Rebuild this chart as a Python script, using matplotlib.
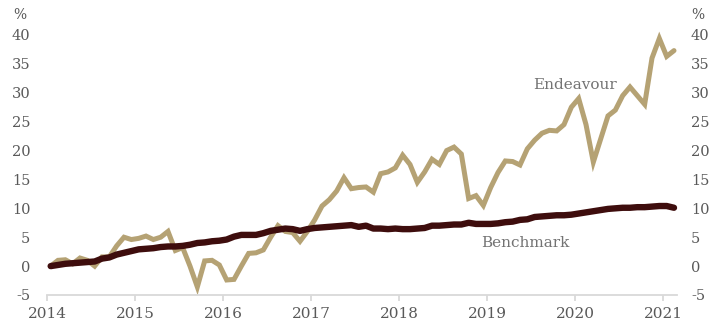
import matplotlib
matplotlib.use("Agg")
import matplotlib.pyplot as plt
import numpy as np

# Monthly data, Jan 2014 .. Feb 2021 (cumulative %)
start_year = 2014
endeavour = [0, 1, 1.1, 0.4, 1.4, 1, 0, 1.6, 1.6, 3.5, 5, 4.6,
             4.8, 5.2, 4.6, 5, 6, 2.7, 3.2, 0, -3.6, 0.9, 1, 0.2,
             -2.4, -2.3, 0, 2.2, 2.3, 2.8, 5, 7, 6, 5.8, 4.3, 6,
             8, 10.4, 11.5, 13, 15.3, 13.4, 13.6, 13.7, 12.8, 16, 16.3, 17,
             19.2, 17.6, 14.5, 16.3, 18.5, 17.6, 20, 20.6, 19.4, 11.7, 12.2, 10.5,
             13.6, 16.2, 18.2, 18.1, 17.5, 20.3, 21.8, 23, 23.5, 23.4, 24.5, 27.5,
             29, 24.5, 18, 22, 26, 27, 29.5, 31, 29.5, 28, 36, 39.4,
             36.3, 37.3]
benchmark = [0, 0.2, 0.4, 0.5, 0.6, 0.7, 0.8, 1.3, 1.5, 2.0, 2.3, 2.6,
             2.9, 3.0, 3.1, 3.3, 3.4, 3.4, 3.5, 3.7, 4.0, 4.1, 4.3, 4.4,
             4.6, 5.1, 5.4, 5.4, 5.4, 5.7, 6.1, 6.3, 6.5, 6.4, 6.1, 6.4,
             6.6, 6.7, 6.8, 6.9, 7.0, 7.1, 6.8, 7.0, 6.5, 6.5, 6.4, 6.5,
             6.4, 6.4, 6.5, 6.6, 7.0, 7.0, 7.1, 7.2, 7.2, 7.5, 7.3, 7.3,
             7.3, 7.4, 7.6, 7.7, 8.0, 8.1, 8.5, 8.6, 8.7, 8.8, 8.8, 8.9,
             9.1, 9.3, 9.5, 9.7, 9.9, 10.0, 10.1, 10.1, 10.2, 10.2, 10.3, 10.4,
             10.4, 10.1]
year_ticks = [2014, 2015, 2016, 2017, 2018, 2019, 2020, 2021]
y_ticks = [-5, 0, 5, 10, 15, 20, 25, 30, 35, 40]

x = start_year + (np.arange(len(endeavour)) + 0.5) / 12.0

GOLD = "#B5A274"
MAROON = "#3E0D0D"
GREY = "#595959"
FONT = "DejaVu Serif"

fig = plt.figure(figsize=(7.1, 3.2), dpi=100)
ax = fig.add_axes([47/710, 25/320, 630/710, 260/320])

ax.plot(x, endeavour, color=GOLD, lw=3.6, solid_capstyle="round", solid_joinstyle="miter", clip_on=False, zorder=2)
ax.plot(x, benchmark, color=MAROON, lw=4.6, solid_capstyle="round", clip_on=False, zorder=3)

ax.set_xlim(2014, 2014 + 630/88)
ax.set_ylim(-5, 40)
ax.set_xticks(year_ticks)
ax.set_xticklabels([str(t) for t in year_ticks], family=FONT, fontsize=11, color=GREY)
ax.set_yticks(y_ticks)
ax.set_yticklabels([str(t) for t in y_ticks], family=FONT, fontsize=10.5, color=GREY)

for s in ["top", "right", "left"]:
    ax.spines[s].set_visible(False)
ax.spines["bottom"].set_color("#d9d9d9")
ax.spines["bottom"].set_linewidth(1.3)
ax.tick_params(axis="x", direction="out", length=4, color="#d9d9d9", width=1.3, pad=5)
ax.tick_params(axis="y", length=0, pad=12)

ax2 = ax.twinx()
ax2.set_ylim(-5, 40)
ax2.set_yticks(y_ticks)
ax2.set_yticklabels([str(t) for t in y_ticks], family=FONT, fontsize=10.5, color=GREY)
ax2.tick_params(axis="y", length=0, pad=10)
for s in ["top", "right", "left", "bottom"]:
    ax2.spines[s].set_visible(False)

fig.text(13/710, 1 - 15/320, "%", family=FONT, fontsize=10, color=GREY, ha="left", va="center")
fig.text(691/710, 1 - 15/320, "%", family=FONT, fontsize=10, color=GREY, ha="left", va="center")

ax.text(2014 + (575 - 47)/88, 31.3, "Endeavour", family=FONT, fontsize=11, color="#737373", ha="center", va="center")
ax.text(2014 + (525 - 47)/88, 4.0, "Benchmark", family=FONT, fontsize=11, color="#737373", ha="center", va="center")

fig.savefig("out.png", dpi=100)
